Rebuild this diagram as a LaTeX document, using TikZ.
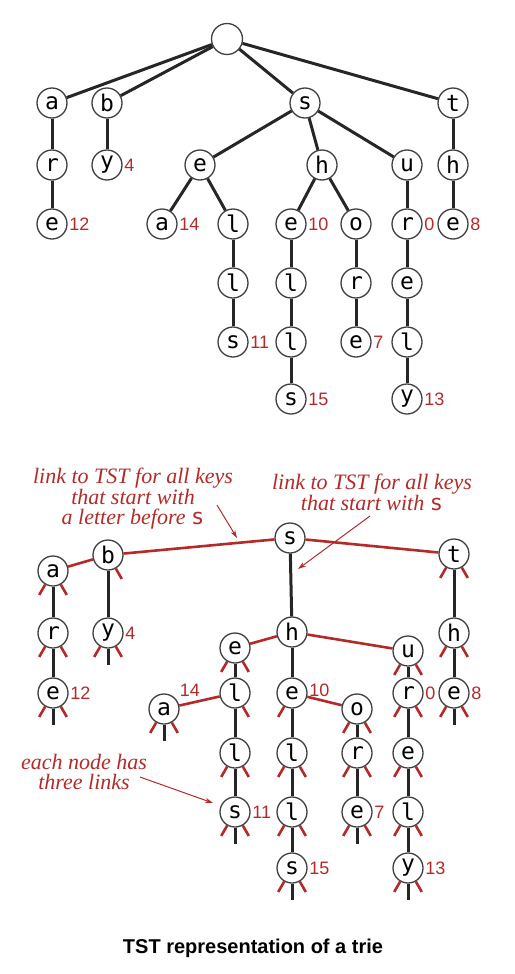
\documentclass[tikz,border=0pt]{standalone}
\usepackage{fontspec}
\usetikzlibrary{arrows.meta}
\newfontfamily\keyfont{DejaVu Sans Mono}
\newfontfamily\numfont{Liberation Sans}
\newfontfamily\notefont{Liberation Serif}
\definecolor{tstred}{RGB}{180,42,40}
\tikzset{
  key/.style={circle, draw=black!75, line width=1.3pt, fill=white, minimum size=30pt,
    inner sep=0pt, font=\keyfont\fontsize{23}{23}\selectfont},
  val/.style={text=tstred, font=\numfont\fontsize{18}{18}\selectfont, inner sep=1.5pt},
  edge/.style={line width=3pt, black!85},
  redlink/.style={line width=2.6pt, tstred},
  note/.style={text=tstred, font=\notefont\itshape\fontsize{22}{20}\selectfont, align=center, inner sep=0pt},
  pointer/.style={tstred, line width=1pt, -{Stealth[length=8pt,width=5pt]}}
}
\begin{document}
\begin{tikzpicture}[x=1pt, y=1pt]
\useasboundingbox (0,0) rectangle (514,-974);
% the trie
\foreach \n/\x/\y/\c in {ta/52/103/a, tb/107/103/b, ts/305/103/s, tt/453/103/t,
    tar/52/165/r, tby/107/165/y, tse/200/165/e, tsh/322/165/h, tsu/407/165/u, tth/453/165/h,
    tare/52/224/e, tsea/162/224/a, tsel/233/224/l, tshe/291/224/e, tsho/356/224/o, tsur/407/224/r, tthe/453/224/e,
    tsell/233/283/l, tshel/291/283/l, tshor/356/283/r, tsure/407/283/e,
    tsells/233/342/s, tshell/291/342/l, tshore/356/342/e, tsurel/407/342/l,
    tshells/291/399/s, tsurely/407/399/y}
  \node[key] (\n) at (\x,-\y) {\c};
\node[key, minimum size=31pt] (troot) at (227,-39) {};
\foreach \a/\b in {troot/ta, troot/tb, troot/ts, troot/tt, ta/tar, tar/tare, tb/tby,
    ts/tse, ts/tsh, ts/tsu, tt/tth, tth/tthe, tse/tsea, tse/tsel, tsel/tsell, tsell/tsells,
    tsh/tshe, tsh/tsho, tshe/tshel, tshel/tshell, tshell/tshells, tsho/tshor, tshor/tshore,
    tsu/tsur, tsur/tsure, tsure/tsurel, tsurel/tsurely}
  \draw[edge] (\a) -- (\b);
\foreach \n/\v in {tby/4, tare/12, tsea/14, tshe/10, tsur/0, tthe/8, tsells/11, tshore/7, tshells/15, tsurely/13}
  \node[val, anchor=west] (\n-v) at (\n.east) {\v};
% the TST
\foreach \n/\x/\y/\c in {ns/290/538/s, nb/108/555/b, na/53/571/a, nt/454/554/t,
    nar/53/633/r, nby/108/633/y, nsh/292/632/h, nth/454/633/h,
    nse/235/648/e, nsu/408/651/u,
    nare/53/693/e, nsel/235/693/l, nshe/292/693/e, nsur/408/693/r, nthe/454/693/e,
    nsea/164/709/a, nsho/357/709/o,
    nsell/235/753/l, nshel/292/753/l, nshor/357/753/r, nsure/408/753/e,
    nsells/235/812/s, nshell/292/812/l, nshore/357/812/e, nsurel/408/812/l,
    nshells/292/868/s, nsurely/408/868/y}
  \node[key] (\n) at (\x,-\y) {\c};
\foreach \a/\b in {ns/nsh, na/nar, nar/nare, nb/nby, nt/nth, nth/nthe, nsh/nshe,
    nse/nsel, nsel/nsell, nsell/nsells, nshe/nshel, nshel/nshell, nshell/nshells,
    nsho/nshor, nshor/nshore, nsu/nsur, nsur/nsure, nsure/nsurel, nsurel/nsurely}
  \draw[edge] (\a) -- (\b);
\foreach \a/\b in {na/nb, nb/ns, ns/nt, nse/nsh, nsh/nsu, nsea/nsel, nshe/nsho}
  \draw[redlink] (\a) -- (\b);
% null links
\foreach \n in {na, nt, nar, nby, nth, nare, nthe, nse, nshe, nsu, nsea, nsho, nsur,
    nsell, nshel, nshor, nsure, nsells, nshell, nshore, nsurel, nshells, nsurely}
  \draw[redlink] (\n.240) -- ++(240:12);
\foreach \n in {na, nb, nt, nar, nby, nth, nare, nthe, nse, nsel, nsu, nsea, nsho, nsur,
    nsell, nshel, nshor, nsure, nsells, nshell, nshore, nsurel, nshells, nsurely}
  \draw[redlink] (\n.300) -- ++(300:12);
\foreach \n in {nby, nare, nthe, nsea, nsells, nshore, nshells, nsurely}
  \draw[edge] (\n.south) -- ++(0,-16);
\foreach \n/\v in {nby/4, nare/12, nsur/0, nthe/8, nsells/11, nshore/7, nshells/15, nsurely/13}
  \node[val, anchor=west] (\n-v) at (\n.east) {\v};
\node[val, anchor=south west] (nsea-v) at ([xshift=3pt]nsea.45) {14};
\node[val, anchor=west] (nshe-v) at ([yshift=3pt]nshe.east) {10};
% notes
\node[note, anchor=north] (note-left) at (133,-468)
  {link to TST for all keys\\that start with\\a letter before {\upshape\keyfont s}};
\node[note, anchor=north] (note-right) at (372,-474)
  {link to TST for all keys\\that start with {\upshape\keyfont s}};
\node[note, anchor=north] (note-three) at (84,-754) {each node has\\three links};
\coordinate (p1) at (217,-505); \coordinate (q1) at (237,-538);
\coordinate (p2) at (370,-516); \coordinate (q2) at (298,-569);
\coordinate (p3) at (140,-777); \coordinate (q3) at (213,-803);
\draw[pointer] (p1) -- (q1);
\draw[pointer] (p2) -- (q2);
\draw[pointer] (p3) -- (q3);
\node[font=\numfont\bfseries\fontsize{20}{20}\selectfont, anchor=base] (caption) at (253,-953)
  {TST representation of a trie};
\end{tikzpicture}
\end{document}
